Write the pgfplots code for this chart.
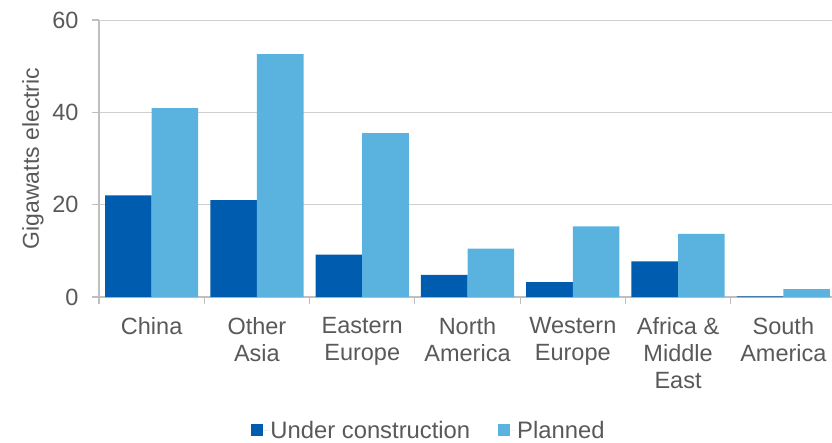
\documentclass[border=0pt]{standalone}
\usepackage{pgfplots}
\pgfplotsset{compat=1.18}
\usepackage{fontspec}
\setmainfont{Liberation Sans}
\definecolor{darkb}{HTML}{005CAE}
\definecolor{lightb}{HTML}{5AB3DF}
\definecolor{txt}{HTML}{595959}
\definecolor{axc}{HTML}{BFBFBF}
\definecolor{grd}{HTML}{CFCFCF}
\begin{document}
\begin{tikzpicture}[x=1pt,y=1pt]
\begin{axis}[
  at={(99pt,145pt)}, anchor=south west,
  scale only axis, width=737pt, height=277pt,
  xmin=-0.5, xmax=6.5, ymin=0, ymax=60,
  axis lines*=left,
  axis line style={axc, line width=1.2pt},
  ytick={0,20,40,60},
  ymajorgrids, grid style={grd, line width=1pt},
  xtick={0,...,6},
  xticklabels={China, Other\\Asia, Eastern\\Europe, North\\America, Western\\Europe, Africa \&\\Middle\\East, South\\America},
  minor xtick={-0.5,0.5,...,6.5},
  tick align=outside,
  major tick length=7pt, minor tick length=7pt,
  major x tick style={draw=none},
  tick style={axc, line width=1.2pt},
  /pgf/number format/assume math mode=true,
  ticklabel style={font=\fontsize{23.5}{27}\selectfont, text=txt},
  xticklabel style={align=center, anchor=north, yshift=-10pt},
  yticklabel style={xshift=-10pt},
  ylabel={Gigawatts electric},
  ylabel style={font=\fontsize{23}{27}\selectfont, text=txt, at={(axis description cs:-0.0896,0.5)}, anchor=center},
  ybar, bar width=46.6pt,
  legend style={at={(axis description cs:0.4478,-0.481)}, anchor=center, draw=none, fill=none,
    legend columns=2, font=\fontsize{23.8}{27}\selectfont, text=txt,
    /tikz/every even column/.style={column sep=26pt}},
  legend image code/.code={\path (0pt,0pt) -- (17pt,0pt);\fill[#1] (0pt,-6pt) rectangle (12pt,6pt);},
]
\addplot[fill=darkb, draw=none, bar shift=-23.3pt] coordinates {(0,22.0) (1,21.0) (2,9.2) (3,4.8) (4,3.2) (5,7.7) (6,0.15)};
\addplot[fill=lightb, draw=none, bar shift=23.3pt] coordinates {(0,40.9) (1,52.6) (2,35.5) (3,10.5) (4,15.3) (5,13.7) (6,1.7)};
\legend{Under construction, Planned}
\end{axis}
\pgfresetboundingbox
\path[use as bounding box] (0,0) rectangle (832,442);
\end{tikzpicture}
\end{document}
